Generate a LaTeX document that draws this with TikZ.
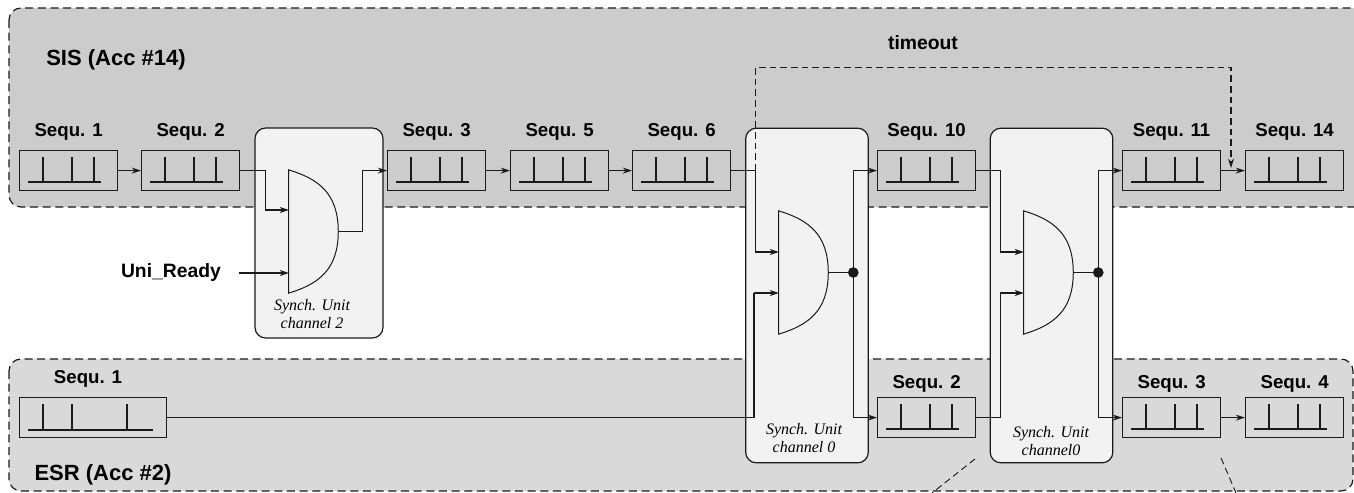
\documentclass[tikz,border=0pt]{standalone}
\usepackage{fontspec}
\setmainfont{Liberation Sans}
\newfontfamily\synchfont{Liberation Serif}
\usepackage{tikz}
\usetikzlibrary{arrows.meta, positioning, calc}
\definecolor{regionSis}{HTML}{CCCCCC}
\definecolor{regionEsr}{HTML}{D9D9D9}
\definecolor{unitFill}{HTML}{F2F2F2}
\definecolor{lineDark}{HTML}{1A1A1A}

\begin{document}
\begin{tikzpicture}[
  x=0.75pt, y=-0.75pt,
  font=\fontsize{14}{16}\selectfont\bfseries,
  region/.style={draw=lineDark, line width=0.9pt, rounded corners=9pt, dash pattern=on 6pt off 3.5pt},
  regionlabel/.style={font=\fontsize{16.5}{18}\selectfont\bfseries},
  sidelabel/.style={font=\fontsize{14.5}{16}\selectfont\bfseries},
  unit/.style={draw=lineDark, fill=unitFill, line width=0.9pt, rounded corners=8pt, minimum width=96pt, inner sep=0pt},
  seqbox/.style={draw=lineDark, line width=0.9pt, anchor=north west, minimum width=73.5pt, minimum height=30pt, inner sep=0pt},
  tick/.style={draw=lineDark, line width=0.8pt},
  gate/.style={minimum width=36.75pt, minimum height=92pt, inner sep=0pt},
  unitlabel/.style={font=\synchfont\fontsize{12}{13.5}\selectfont\itshape\mdseries, align=center},
  a/.style={draw=lineDark, line width=0.9pt, -{Stealth[length=7pt, width=4.5pt]}},
  wire/.style={draw=lineDark, line width=0.9pt}
]
\useasboundingbox (0,0) rectangle (1354,493);
\clip (0,0) rectangle (1354,493);

% accelerators
\fill[white] (0,0) rectangle (1354,493);
\path[region, fill=regionSis] (9,8) rectangle (1375,207);
\path[region, fill=regionEsr] (9,359) rectangle (1353,491);
\node[regionlabel] (sislabel) at (116,60) {SIS (Acc \#14)};
\node[regionlabel] (esrlabel) at (103,475) {ESR (Acc \#2)};

% synch units
\node[unit, minimum height=157.5pt] (unitB) at (319,233) {};
\node[unit, minimum width=92pt, minimum height=251pt] (unitA) at (807,295.5) {};
\node[unit, minimum width=92pt, minimum height=251pt] (unitC) at (1051.5,295.5) {};
\node[unitlabel] (unitBtext) at (312,314) {Synch. Unit\\channel 2};
\node[unitlabel] (unitAtext) at (804,438.5) {Synch. Unit\\channel 0};
\node[unitlabel] (unitCtext) at (1051,441) {Synch. Unit\\channel0};

% queues
\foreach \n/\x/\t in {sisA/19/Sequ. 1, sisB/141/Sequ. 2, sisC/387/Sequ. 3, sisD/510/Sequ. 5, sisE/632/Sequ. 6, sisF/877/Sequ. 10, sisG/1122/Sequ. 11, sisH/1245/Sequ. 14}
  \node[seqbox, label={[name=\n text, yshift=4pt]above:\t}] (\n) at (\x,150) {};
\foreach \n/\x/\t in {esrB/877/Sequ. 2, esrC/1122/Sequ. 3, esrD/1245/Sequ. 4}
  \node[seqbox, label={[name=\n text, yshift=0pt]above:\t}] (\n) at (\x,397) {};
\node[seqbox, minimum width=110.25pt] (esrA) at (19,397) {};
\node (esrAtext) at (88,379) {Sequ. 1};

\foreach \n in {sisA,sisB,sisC,sisD,sisE,sisF,sisG,sisH,esrB,esrC,esrD} {
  \draw[tick] (\n.north west) ++(9,32) -- ++(73,0);
  \foreach \x in {24,53,75}
    \draw[tick] (\n.north west) ++(\x,7) -- ++(0,25);
}
\draw[tick] (esrA.north west) ++(9,33) -- ++(125,0);
\foreach \x in {24,53,108}
  \draw[tick] (esrA.north west) ++(\x,7) -- ++(0,26);

% gates
\foreach \n/\x/\y in {gateB/313.5/231.5, gateA/803.5/272.5, gateC/1048.5/272.5} {
  \node[gate] (\n) at (\x,\y) {};
  \draw[wire, line width=0.75pt, fill=unitFill] (\n.north west) .. controls ($(\n.north west)+(30,9)$) and ($(\n.east)+(0,-38)$) .. (\n.east)
    .. controls ($(\n.east)+(0,38)$) and ($(\n.south west)+(30,-9)$) .. (\n.south west) -- cycle;
}
\coordinate (gateBa) at (289,210);
\coordinate (gateBb) at (289,273);
\coordinate (gateAa) at (779,252);
\coordinate (gateAb) at (779,293);
\coordinate (gateCa) at (1024,252);
\coordinate (gateCb) at (1024,293);
\coordinate (timeoutend) at (1231,168);
\node[sidelabel] (ready) at (171,272) {Uni\_Ready};

% connections
\foreach \p/\q in {sisA/sisB, sisC/sisD, sisD/sisE, sisG/sisH, esrC/esrD}
  \draw[a] (\p.east) -- (\q.west);
\draw[a] (sisB.east) -- ++(25,0) |- (gateBa);
\draw[a] (ready.east) ++(13,1) -- (gateBb);
\draw[a] (gateB.east) -- ++(24,0) |- (sisC.west);
\draw[a] (sisE.east) -- ++(24,0) |- (gateAa);
\draw[wire] (esrA.east) -| ($(gateAb)+(-25,0)$);
\draw[a] ($(gateAb)+(-25,0)$) -- (gateAb);
\draw[a] (sisF.east) -- ++(24,0) |- (gateCa);
\draw[a] (esrB.east) -- ++(24,0) |- (gateCb);
\draw[wire] (gateA.east) -- ++(25,0) coordinate (joinA);
\draw[wire] (gateC.east) -- ++(25,0) coordinate (joinC);
\fill[lineDark] (joinA) circle (4pt);
\fill[lineDark] (joinC) circle (4pt);
\draw[a] (joinA) |- (sisF.west);
\draw[a] (joinA) |- (esrB.west);
\draw[a] (joinC) |- (sisG.west);
\draw[a] (joinC) |- (esrC.west);

% timeout path
\draw[a, line width=0.8pt, dash pattern=on 5pt off 3pt] ($(sisE.east)+(24,0)$) -- ++(0,-103) -| (timeoutend);
\node[sidelabel] (timeout) at (923,43) {timeout};

% continuation marks
\coordinate (markAa) at (975,459);
\coordinate (markAb) at (932,493);
\coordinate (markBa) at (1221,458);
\coordinate (markBb) at (1236,493);
\draw[wire, line width=0.7pt, dash pattern=on 5pt off 3pt] (markAa) -- (markAb);
\draw[wire, line width=0.7pt, dash pattern=on 5pt off 3pt] (markBa) -- (markBb);
\end{tikzpicture}
\end{document}
